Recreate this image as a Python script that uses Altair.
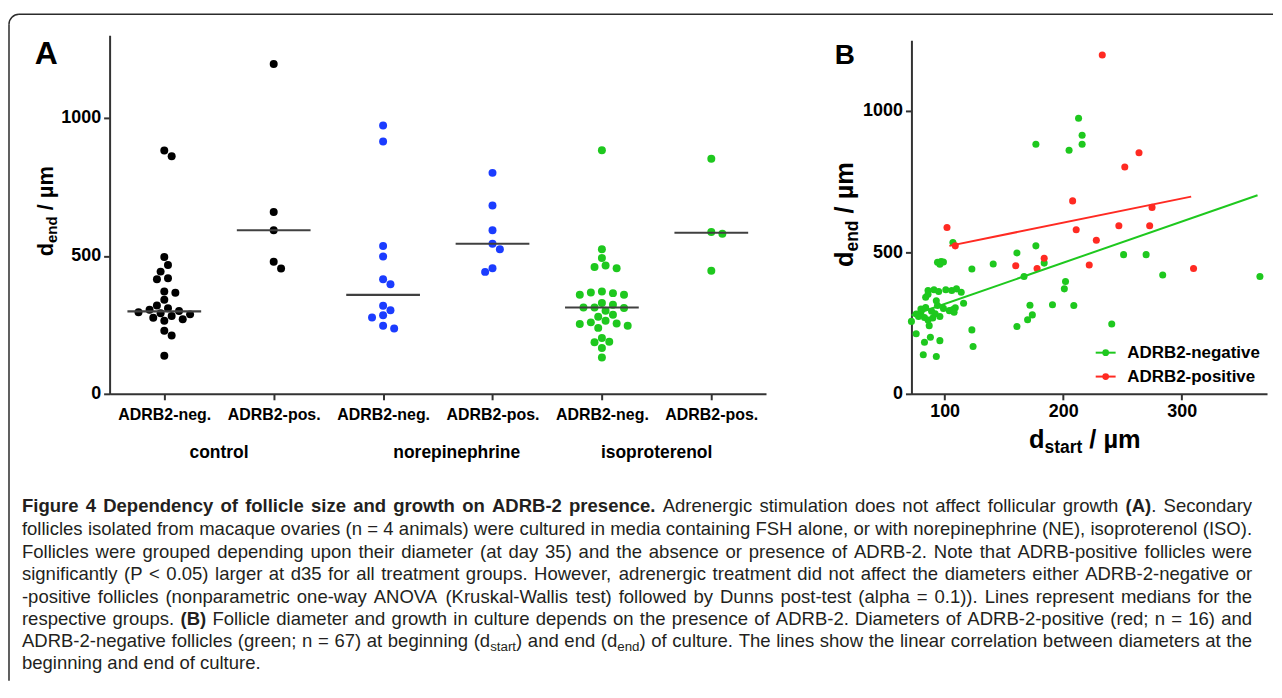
import altair as alt
import pandas as pd

FONT = "Liberation Sans"

# ---------------- Panel A data ----------------
a_tick_labels = ["ADRB2-neg.", "ADRB2-pos.", "ADRB2-neg.", "ADRB2-pos.", "ADRB2-neg.", "ADRB2-pos."]
a_treatments = ["control", "norepinephrine", "isoproterenol"]
control_neg = [882, 861, 496, 467, 443, 419, 415, 371, 366, 341, 320, 310, 305, 300, 296,
               292, 288, 282, 276, 270, 265, 229, 211, 138]
control_pos = [1196, 659, 593, 479, 454]
ne_neg = [973, 915, 536, 498, 415, 397, 319, 303, 285, 277, 247, 237]
ne_pos = [801, 683, 593, 544, 524, 455, 442]
iso_neg = [883, 524, 492, 465, 460, 455, 371, 367, 365, 359, 359, 329, 323, 313, 313, 311,
           301, 287, 279, 265, 259, 255, 253, 247, 239, 202, 189, 187, 166, 132]
iso_pos = [852, 587, 580, 446]
a_medians = [299, 593, 359, 544, 313, 584]
y_ticks = [0, 500, 1000]

# ---------------- Panel B data ----------------
b_series = ["ADRB2-negative", "ADRB2-positive"]
neg_x = [213, 216, 216, 205, 177, 177, 161, 107, 141, 123, 184, 167, 202, 201, 172, 191, 209,
         174, 170, 161, 241, 251, 270, 284, 366, 123, 124, 116,
         94, 97, 99, 96,
         86, 91, 95, 84, 93, 94, 80, 76, 80, 78, 83, 86, 90, 87, 96, 72, 76, 83, 88, 96, 82, 93,
         106, 110, 114, 104, 107, 109, 108,
         89, 92, 84, 99, 101, 86]
neg_y = [974, 914, 882, 861, 882, 523, 498, 535, 459, 441, 462, 415, 397, 371, 313, 315, 312,
         279, 262, 238, 247, 492, 492, 420, 415, 226, 167, 320,
         465, 468, 466, 458,
         365, 368, 362, 341, 329, 312, 300, 282, 288, 273, 270, 261, 268, 241, 273, 256, 212, 182,
         200, 188, 138, 132,
         365, 371, 359, 294, 298, 304, 288,
         292, 283, 305, 302, 368, 352]
pos_x = [233, 102, 109, 208, 211, 228, 222, 252, 264, 247, 273, 275, 160, 178, 184, 310]
pos_y = [1198, 588, 523, 682, 580, 543, 455, 802, 852, 594, 594, 659, 453, 443, 479, 443]
fit_neg_x = [72, 364]
fit_neg_y = [277, 702]
fit_pos_x = [104, 308]
fit_pos_y = [523, 697]
b_x_ticks = [100, 200, 300]

caption_lines = [
    [("Figure 4 Dependency of follicle size and growth on ADRB-2 presence.", "b"),
     (" Adrenergic stimulation does not affect follicular growth ", "r"), ("(A)", "b"), (". Secondary", "r")],
    [("follicles isolated from macaque ovaries (n = 4 animals) were cultured in media containing FSH alone, or with norepinephrine (NE), isoproterenol (ISO).", "r")],
    [("Follicles were grouped depending upon their diameter (at day 35) and the absence or presence of ADRB-2. Note that ADRB-positive follicles were", "r")],
    [("significantly (P < 0.05) larger at d35 for all treatment groups. However, adrenergic treatment did not affect the diameters either ADRB-2-negative or", "r")],
    [("-positive follicles (nonparametric one-way ANOVA (Kruskal-Wallis test) followed by Dunns post-test (alpha = 0.1)). Lines represent medians for the", "r")],
    [("respective groups. ", "r"), ("(B)", "b"),
     (" Follicle diameter and growth in culture depends on the presence of ADRB-2. Diameters of ADRB-2-positive (red; n = 16) and", "r")],
    [("ADRB-2-negative follicles (green; n = 67) at beginning (d", "r"), ("start", "s"), (") and end (d", "r"), ("end", "s"),
     (") of culture. The lines show the linear correlation between diameters at the", "r")],
    [("beginning and end of culture.", "r")],
]

# ---------------- styles / layout ----------------
BLACK, BLUE, GREEN, RED = "#000000", "#1b3cff", "#1ec81e", "#ff2a22"
A_COLORS = [BLACK, BLUE, GREEN]
B_COLORS = [GREEN, RED]
AXIS_C = "#333333"
A_W, A_H = 659, 360
B_W, B_H = 357, 360
GAP = 146
PX0, PY0 = 110, 34          # page position of panel A plot origin
BX0 = PX0 + A_W + GAP       # page x of panel B plot origin

REG = {' ': 278, '(': 333, ')': 333, ',': 278, '-': 333, '.': 278, '/': 278, ':': 278, ';': 278,
       '<': 584, '=': 584, '>': 584, 'µ': 556,
       'A': 667, 'B': 667, 'C': 722, 'D': 722, 'E': 667, 'F': 611, 'G': 778, 'H': 722, 'I': 278,
       'J': 500, 'K': 667, 'L': 556, 'M': 833, 'N': 722, 'O': 778, 'P': 667, 'Q': 778, 'R': 722,
       'S': 667, 'T': 611, 'U': 722, 'V': 667, 'W': 944, 'X': 667, 'Y': 667, 'Z': 611,
       'a': 556, 'b': 556, 'c': 500, 'd': 556, 'e': 556, 'f': 278, 'g': 556, 'h': 556, 'i': 222,
       'j': 222, 'k': 500, 'l': 222, 'm': 833, 'n': 556, 'o': 556, 'p': 556, 'q': 556, 'r': 333,
       's': 500, 't': 278, 'u': 556, 'v': 500, 'w': 722, 'x': 500, 'y': 500, 'z': 500}
BOLD = {' ': 278, '(': 333, ')': 333, ',': 278, '-': 333, '.': 278, '/': 278, ':': 333, ';': 333,
        '<': 584, '=': 584, '>': 584, 'µ': 611,
        'A': 722, 'B': 722, 'C': 722, 'D': 722, 'E': 667, 'F': 611, 'G': 778, 'H': 722, 'I': 278,
        'J': 556, 'K': 722, 'L': 611, 'M': 833, 'N': 722, 'O': 778, 'P': 667, 'Q': 778, 'R': 722,
        'S': 667, 'T': 611, 'U': 722, 'V': 667, 'W': 944, 'X': 667, 'Y': 667, 'Z': 611,
        'a': 556, 'b': 611, 'c': 556, 'd': 611, 'e': 556, 'f': 333, 'g': 611, 'h': 611, 'i': 278,
        'j': 278, 'k': 556, 'l': 278, 'm': 889, 'n': 611, 'o': 611, 'p': 611, 'q': 611, 'r': 389,
        's': 556, 't': 333, 'u': 611, 'v': 556, 'w': 778, 'x': 556, 'y': 556, 'z': 500}


def tw(s, bold):
    t = BOLD if bold else REG
    return sum(t.get(c, 556) for c in s) / 1000.0


def one():
    return pd.DataFrame({"k": [0]})


def txt(t, x, y, size, weight="bold", align="left", baseline="alphabetic", angle=0, color="black"):
    kw = dict(text=t, fontSize=size, fontWeight=weight, align=align, baseline=baseline,
              font=FONT, color=color)
    if angle:
        kw["angle"] = angle
    return alt.Chart(one()).mark_text(**kw).encode(x=alt.value(x), y=alt.value(y))


def title_pieces(pieces, x0, y0, vertical):
    out, pos = [], 0.0
    for text, size, dperp, lead in pieces:
        pos += lead * size
        if vertical:
            out.append(txt(text, x0 + dperp, y0 - pos, size, angle=270))
        else:
            out.append(txt(text, x0 + pos, y0 + dperp, size))
        pos += tw(text, True) * size
    return out


# ---------------- beeswarm (computed, balanced layout) ----------------
PXU = A_W / 6.0
PYU = A_H / 1300.0


def swarm(values, step=3.7, diam=8.2):
    order = sorted(range(len(values)), key=lambda i: -values[i])
    placed, offs = [], [0.0] * len(values)
    for i in order:
        y = values[i] * PYU
        near = [px for px, py in placed if abs(py - y) < 3 * diam]
        right = sum(1 for px in near if px > 0.1)
        left = sum(1 for px in near if px < -0.1)
        pref = -1 if right > left else 1
        x = 0.0
        found = False
        for m in range(0, 60):
            for sgn in ((1,) if m == 0 else (pref, -pref)):
                x = sgn * m * step
                if all((x - px) ** 2 + (y - py) ** 2 >= diam ** 2 for px, py in placed):
                    found = True
                    break
            if found:
                break
        placed.append((x, y))
        offs[i] = x
    return offs


a_groups = [control_neg, control_pos, ne_neg, ne_pos, iso_neg, iso_pos]
rowsA = []
for gi, vals in enumerate(a_groups):
    for v, o in zip(vals, swarm(vals)):
        rowsA.append({"xpos": gi + o / PXU, "value": v, "treat": a_treatments[gi // 2]})
dfA = pd.DataFrame(rowsA)
dfMed = pd.DataFrame({"xpos": [i - 0.337 for i in range(6)], "xpos2": [i + 0.337 for i in range(6)],
                      "value": a_medians})
dfGrp = pd.DataFrame({"xpos": [2 * i + 0.5 for i in range(3)], "label": a_treatments})

axA_x = alt.Axis(values=list(range(6)), title=None, grid=False,
                 labelExpr="[" + ",".join("'%s'" % s for s in a_tick_labels) + "][datum.value]",
                 domainColor=AXIS_C, domainWidth=2, tickColor=AXIS_C, tickWidth=2, tickSize=6,
                 labelFont=FONT, labelFontWeight="bold", labelFontSize=16, labelColor="black",
                 labelPadding=7, labelOverlap=False, labelFlush=False)
axA_y = alt.Axis(values=y_ticks, format="d", title=None, grid=False, domainColor=AXIS_C, domainWidth=2,
                 tickColor=AXIS_C, tickWidth=2, tickSize=6, labelFont=FONT, labelFontWeight="bold",
                 labelFontSize=18, labelColor="black", labelPadding=3)
xA = alt.X("xpos:Q", scale=alt.Scale(domain=[-0.5, 5.5], nice=False, zero=False), axis=axA_x)
yA = alt.Y("value:Q", scale=alt.Scale(domain=[0, 1300], nice=False), axis=axA_y)

ptsA = alt.Chart(dfA).mark_circle(size=64, opacity=1).encode(
    x=xA, y=yA,
    color=alt.Color("treat:N", scale=alt.Scale(domain=a_treatments, range=A_COLORS), legend=None))
medA = alt.Chart(dfMed).mark_rule(color="#404040", strokeWidth=2.2).encode(x=xA, x2="xpos2:Q", y=yA)
grp_main = alt.Chart(dfGrp[dfGrp.label != "norepinephrine"]).mark_text(
    font=FONT, fontWeight="bold", fontSize=17.5, baseline="middle", color="black").encode(
    x=xA, y=alt.value(419), text="label:N")
grp_ne = alt.Chart(dfGrp[dfGrp.label == "norepinephrine"]).mark_text(
    font=FONT, fontWeight="bold", fontSize=17.5, baseline="middle", color="black", dx=19).encode(
    x=xA, y=alt.value(419), text="label:N")
A_core = alt.layer(ptsA, medA, grp_main, grp_ne)

# ---------------- caption (justified, computed layout) ----------------
SUB = 0.72


def words_of(runs):
    words, cur = [], []
    for text, st in runs:
        parts = text.split(" ")
        for i, p in enumerate(parts):
            if i > 0 and cur:
                words.append(cur)
                cur = []
            if p:
                cur.append((p, st))
    if cur:
        words.append(cur)
    return words


def piece_w(p, st, S):
    return tw(p, st == "b") * (S * SUB if st == "s" else S)


def word_w(word, S):
    return sum(piece_w(p, st, S) for p, st in word)


LINE_W = 1235
ratios = []
for runs in caption_lines[:-1]:
    ws = words_of(runs)
    n1 = sum(word_w(w, 1.0) for w in ws) + 0.278 * (len(ws) - 1)
    ratios.append(LINE_W / n1)
CS = min(ratios) * 0.998
centers = [507, 530, 553, 575, 598, 620, 642, 664]
cap_rows = []
for li, runs in enumerate(caption_lines):
    ws = words_of(runs)
    widths = [word_w(w, CS) for w in ws]
    if li < len(caption_lines) - 1:
        gap = (LINE_W - sum(widths)) / (len(ws) - 1)
    else:
        gap = 0.278 * CS
    x = 22 - PX0
    base = centers[li] - PY0 + 0.33 * CS
    for w, wd in zip(ws, widths):
        cx = x
        for p, st in w:
            fs = CS * SUB if st == "s" else CS
            y = base + (0.22 * CS if st == "s" else 0)
            cap_rows.append({"px": cx, "py": y, "t": p, "fs": fs, "st": st})
            cx += piece_w(p, st, CS)
        x += wd + gap
dfCap = pd.DataFrame(cap_rows)


def cap_layer(df, weight):
    return alt.Chart(df).mark_text(align="left", baseline="alphabetic", font=FONT,
                                   fontWeight=weight, color="#231f20").encode(
        x=alt.X("px:Q", scale=None, axis=None), y=alt.Y("py:Q", scale=None, axis=None),
        text="t:N", size=alt.Size("fs:Q", scale=None, legend=None))


cap_r = cap_layer(dfCap[dfCap.st != "b"], "normal")
cap_b = cap_layer(dfCap[dfCap.st == "b"], "bold")

# frame (decoration)
FR = "#2b2b2b"
fx, fy, rad = 9 - PX0, 13 - PY0, 10
frame_left = alt.Chart(one()).mark_rule(color=FR, strokeWidth=1.5).encode(
    x=alt.value(fx), y=alt.value(fy + rad), y2=alt.value(648))
frame_top = alt.Chart(one()).mark_rule(color=FR, strokeWidth=1.5).encode(
    y=alt.value(fy), x=alt.value(fx + rad), x2=alt.value(1168))
frame_arc = alt.Chart(one()).mark_arc(radius=rad + 0.75, radius2=rad - 0.75, theta=4.71239,
                                      theta2=6.28319, color=FR).encode(
    x=alt.value(fx + rad), y=alt.value(fy + rad))

A_decor = [cap_r, cap_b, frame_left, frame_top, frame_arc,
           txt("A", 46.5 - PX0, 63 - PY0, 32, align="center")]
A_decor += title_pieces([("d", 22, 0, 0), ("end", 15, 4, 0), ("/ µm", 22, 0, 0.278)],
                        53 - PX0, 256 - PY0, True)

A = alt.layer(A_core, *A_decor).resolve_scale(x="independent", y="independent").properties(
    width=A_W, height=A_H)

# ---------------- Panel B ----------------
dfB = pd.DataFrame({"x": neg_x + pos_x, "y": neg_y + pos_y,
                    "grp": [b_series[0]] * len(neg_x) + [b_series[1]] * len(pos_x)})
dfFit = pd.DataFrame({"x": fit_neg_x + fit_pos_x, "y": fit_neg_y + fit_pos_y,
                      "grp": [b_series[0]] * 2 + [b_series[1]] * 2})
axB_x = alt.Axis(values=b_x_ticks, format="d", title=None, grid=False, domainColor=AXIS_C, domainWidth=2,
                 tickColor=AXIS_C, tickWidth=2, tickSize=6, labelFont=FONT, labelFontWeight="bold",
                 labelFontSize=18, labelColor="black", labelPadding=3, labelFlush=False)
axB_y = alt.Axis(values=y_ticks, format="d", title=None, grid=False, domainColor=AXIS_C, domainWidth=2,
                 tickColor=AXIS_C, tickWidth=2, tickSize=6, labelFont=FONT, labelFontWeight="bold",
                 labelFontSize=18, labelColor="black", labelPadding=3)
xB = alt.X("x:Q", scale=alt.Scale(domain=[72, 372], nice=False, zero=False), axis=axB_x)
yB = alt.Y("y:Q", scale=alt.Scale(domain=[0, 1250], nice=False, range=[B_H, 5]), axis=axB_y)
colB = alt.Color("grp:N", scale=alt.Scale(domain=b_series, range=B_COLORS), legend=None)
ptsB = alt.Chart(dfB).mark_circle(size=50, opacity=1).encode(x=xB, y=yB, color=colB)
fitB = alt.Chart(dfFit).mark_line(strokeWidth=2).encode(x=xB, y=yB, color=colB, detail="grp:N")
B_core = alt.layer(ptsB, fitB)

leg_y0 = 352.7 - PY0
dfLeg = pd.DataFrame({"lab": b_series, "col": B_COLORS,
                      "ly": [leg_y0 + 24 * i for i in range(len(b_series))],
                      "lx1": [1100 - BX0] * 2, "lx2": [1120 - BX0] * 2,
                      "lxp": [1110 - BX0] * 2, "lxt": [1131.7 - BX0] * 2})
leg_rule = alt.Chart(dfLeg).mark_rule(strokeWidth=2).encode(
    x=alt.X("lx1:Q", scale=None, axis=None), x2="lx2:Q", y=alt.Y("ly:Q", scale=None, axis=None),
    color=alt.Color("col:N", scale=None, legend=None))
leg_pt = alt.Chart(dfLeg).mark_circle(opacity=1).encode(
    x=alt.X("lxp:Q", scale=None, axis=None), y=alt.Y("ly:Q", scale=None, axis=None),
    color=alt.Color("col:N", scale=None, legend=None), size=alt.value(45))
leg_txt = alt.Chart(dfLeg).mark_text(align="left", baseline="middle", font=FONT, fontWeight="bold",
                                      fontSize=17, color="black").encode(
    x=alt.X("lxt:Q", scale=None, axis=None), y=alt.Y("ly:Q", scale=None, axis=None), text="lab:N")

B_decor = [leg_rule, leg_pt, leg_txt, txt("B", 848 - BX0, 63 - PY0, 28, align="center")]
B_decor += title_pieces([("d", 25.5, 0, 0), ("end", 17.5, 5, 0), ("/ µm", 25.5, 0, 0.278)],
                        856 - BX0, 266.7 - PY0, True)
B_decor += title_pieces([("d", 25.5, 0, 0), ("start", 17.5, 5, 0), ("/ µm", 25.5, 0, 0.278)],
                        1033 - BX0, 448 - PY0, False)

B = alt.layer(B_core, *B_decor).resolve_scale(x="independent", y="independent").properties(
    width=B_W, height=B_H)

chart = alt.hconcat(A, B, spacing=GAP, bounds="flush").resolve_scale(
    color="independent", size="independent"
).properties(
    padding={"left": 0, "top": 4, "right": 0, "bottom": 0}
).configure_view(stroke=None)

chart.save("out.html", embed_options={"renderer": "svg", "actions": False})
